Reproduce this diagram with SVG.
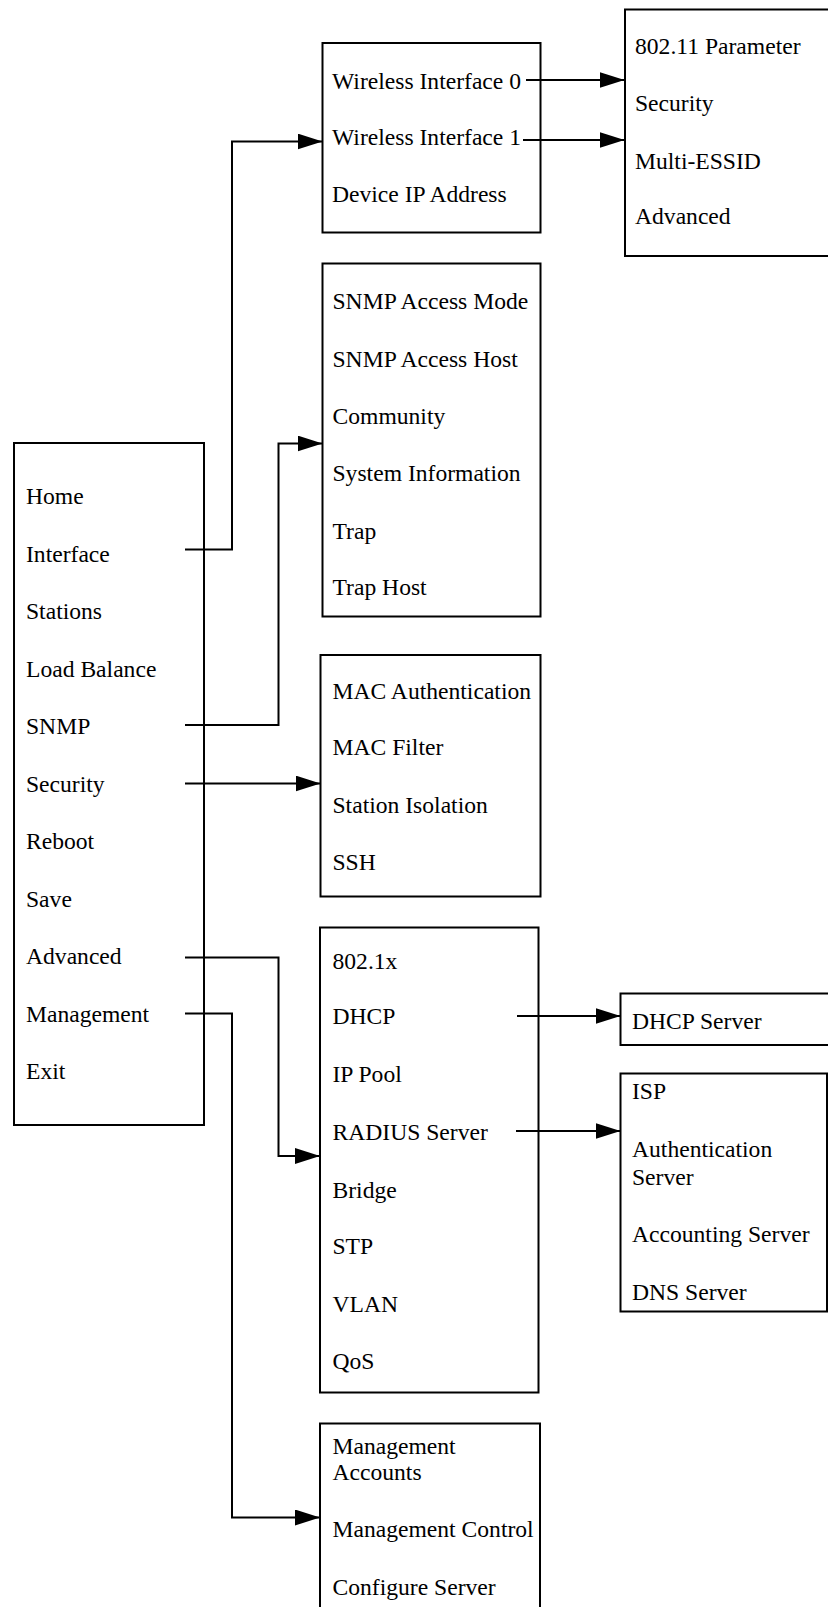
<svg xmlns="http://www.w3.org/2000/svg" width="828" height="1607" viewBox="0 0 828 1607">
  <style>
    .box { fill: #ffffff; stroke: #000000; stroke-width: 2; }
    .lbl { font-size: 23.6px; fill: #000000; }
    .wire { fill: none; stroke: #000000; stroke-width: 2; }
  </style>
  <defs>
    <marker id="arrow" markerUnits="userSpaceOnUse" markerWidth="26" markerHeight="17" refX="25" refY="8" orient="auto">
      <path d="M0,0 L25,8 L0,16 Z" fill="#000000"/>
    </marker>
  </defs>

  <rect width="828" height="1607" fill="#ffffff"/>

  <g font-family="'Liberation Serif', 'DejaVu Serif', serif">
  <!-- main menu -->
  <g id="main-menu">
    <rect class="box" x="14" y="443" width="190" height="682"/>
    <text class="lbl" x="26" y="504">Home</text>
    <text class="lbl" x="26" y="561.5">Interface</text>
    <text class="lbl" x="26" y="619">Stations</text>
    <text class="lbl" x="26" y="676.5">Load Balance</text>
    <text class="lbl" x="26" y="734">SNMP</text>
    <text class="lbl" x="26" y="791.5">Security</text>
    <text class="lbl" x="26" y="849">Reboot</text>
    <text class="lbl" x="26" y="906.5">Save</text>
    <text class="lbl" x="26" y="964">Advanced</text>
    <text class="lbl" x="26" y="1021.5">Management</text>
    <text class="lbl" x="26" y="1079">Exit</text>
  </g>

  <!-- interface submenu -->
  <g id="interface-menu">
    <rect class="box" x="322.5" y="43" width="218" height="189.5"/>
    <text class="lbl" x="332" y="88.5">Wireless Interface 0</text>
    <text class="lbl" x="332" y="145">Wireless Interface 1</text>
    <text class="lbl" x="332" y="201.5">Device IP Address</text>
  </g>

  <!-- wireless settings -->
  <g id="wireless-menu">
    <rect class="box" x="625" y="9.5" width="210" height="246.5"/>
    <text class="lbl" x="635" y="53.5">802.11 Parameter</text>
    <text class="lbl" x="635" y="111">Security</text>
    <text class="lbl" x="635" y="168.5">Multi-ESSID</text>
    <text class="lbl" x="635" y="224">Advanced</text>
  </g>

  <!-- SNMP submenu -->
  <g id="snmp-menu">
    <rect class="box" x="322.5" y="263.5" width="218" height="353"/>
    <text class="lbl" x="332.5" y="308.5">SNMP Access Mode</text>
    <text class="lbl" x="332.5" y="366.5">SNMP Access Host</text>
    <text class="lbl" x="332.5" y="424">Community</text>
    <text class="lbl" x="332.5" y="480.5">System Information</text>
    <text class="lbl" x="332.5" y="538.5">Trap</text>
    <text class="lbl" x="332.5" y="595">Trap Host</text>
  </g>

  <!-- security submenu -->
  <g id="security-menu">
    <rect class="box" x="320.5" y="655" width="220" height="241.5"/>
    <text class="lbl" x="332.5" y="698.5">MAC Authentication</text>
    <text class="lbl" x="332.5" y="755">MAC Filter</text>
    <text class="lbl" x="332.5" y="813">Station Isolation</text>
    <text class="lbl" x="332.5" y="870">SSH</text>
  </g>

  <!-- advanced submenu -->
  <g id="advanced-menu">
    <rect class="box" x="320" y="927.5" width="218.5" height="465"/>
    <text class="lbl" x="332.5" y="968.5">802.1x</text>
    <text class="lbl" x="332.5" y="1023.5">DHCP</text>
    <text class="lbl" x="332.5" y="1081.5">IP Pool</text>
    <text class="lbl" x="332.5" y="1140">RADIUS Server</text>
    <text class="lbl" x="332.5" y="1197.5">Bridge</text>
    <text class="lbl" x="332.5" y="1253.5">STP</text>
    <text class="lbl" x="332.5" y="1311.5">VLAN</text>
    <text class="lbl" x="332.5" y="1368.5">QoS</text>
  </g>

  <!-- DHCP server -->
  <g id="dhcp-server">
    <rect class="box" x="620.5" y="993.5" width="215" height="51.5"/>
    <text class="lbl" x="632" y="1028.5">DHCP Server</text>
  </g>

  <!-- RADIUS server settings -->
  <g id="radius-menu">
    <rect class="box" x="620.5" y="1073.5" width="206.5" height="238"/>
    <text class="lbl" x="632" y="1098.5">ISP</text>
    <text class="lbl" x="632" y="1156.5">Authentication</text>
    <text class="lbl" x="632" y="1185">Server</text>
    <text class="lbl" x="632" y="1241.5">Accounting Server</text>
    <text class="lbl" x="632" y="1300">DNS Server</text>
  </g>

  <!-- management submenu -->
  <g id="management-menu">
    <rect class="box" x="320" y="1423.5" width="220" height="195"/>
    <text class="lbl" x="332.5" y="1453.5">Management</text>
    <text class="lbl" x="332.5" y="1480">Accounts</text>
    <text class="lbl" x="332.5" y="1536.5">Management Control</text>
    <text class="lbl" x="332.5" y="1595">Configure Server</text>
  </g>
  </g>

  <!-- connectors -->
  <g id="connectors" class="wire">
    <path class="wire" d="M185,549.5 H232 V141.5 H322.5" marker-end="url(#arrow)"/>
    <path class="wire" d="M185,725 H278.5 V443.5 H322.5" marker-end="url(#arrow)"/>
    <path class="wire" d="M185,783.5 H320.5" marker-end="url(#arrow)"/>
    <path class="wire" d="M185,957.5 H278.5 V1156 H320" marker-end="url(#arrow)"/>
    <path class="wire" d="M185,1013.5 H232 V1517.5 H320" marker-end="url(#arrow)"/>
    <path class="wire" d="M526,80 H624.5" marker-end="url(#arrow)"/>
    <path class="wire" d="M523,140 H624.5" marker-end="url(#arrow)"/>
    <path class="wire" d="M517,1016 H620.5" marker-end="url(#arrow)"/>
    <path class="wire" d="M516,1131 H620.5" marker-end="url(#arrow)"/>
  </g>
</svg>
